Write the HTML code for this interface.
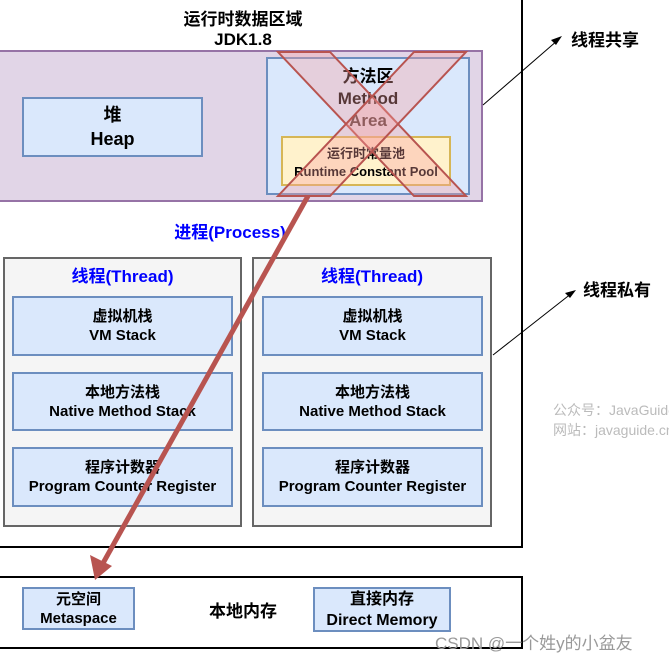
<!DOCTYPE html>
<html><head><meta charset="utf-8"><style>
body{margin:0;width:669px;height:660px;background:#fff;position:relative;overflow:hidden;font-family:"Liberation Sans","Noto Sans CJK SC",sans-serif;font-weight:bold}
.a{position:absolute;box-sizing:border-box}
.t{position:absolute;text-align:center;white-space:nowrap}
.bl{background:#dae8fc;border:2px solid #6c8ebf;display:flex;flex-direction:column;align-items:center;justify-content:center;font-size:15px;line-height:19px;color:#000}
</style></head><body>
<div class="a" style="left:-3px;top:-3px;width:526px;height:551px;border:2px solid #000"></div>
<div class="t" style="left:143px;top:5px;width:200px;font-size:17px">运行时数据区域</div>
<div class="t" style="left:143px;top:30px;width:200px;font-size:17px">JDK1.8</div>
<div class="a" style="left:-2px;top:50px;width:485px;height:152px;background:#e1d5e7;border:2px solid #9673a6"></div>
<div class="a bl" style="left:22px;top:97px;width:181px;height:60px;font-size:18px;line-height:24px"><div>堆</div><div>Heap</div></div>
<div class="a" style="left:266px;top:57px;width:204px;height:138px;background:#dae8fc;border:2px solid #6c8ebf"></div>
<div class="t" style="left:266px;top:66px;width:204px;font-size:17px;line-height:22px">方法区<br>Method<br>Area</div>
<div class="a" style="left:281px;top:136px;width:170px;height:50px;background:#fff2cc;border:2px solid #d6b656"></div>
<div class="t" style="left:281px;top:145px;width:170px;font-size:13px;line-height:18px">运行时常量池<br>Runtime Constant Pool</div>
<div class="t" style="left:130px;top:218px;width:200px;font-size:17px;color:#0000ff">进程(Process)</div>
<div class="a" style="left:3px;top:257px;width:239px;height:270px;background:#f5f5f5;border:2px solid #666"></div>
<div class="a" style="left:252px;top:257px;width:240px;height:270px;background:#f5f5f5;border:2px solid #666"></div>
<div class="t" style="left:3px;top:262px;width:239px;font-size:17px;color:#0000ff">线程(Thread)</div>
<div class="t" style="left:252px;top:262px;width:240px;font-size:17px;color:#0000ff">线程(Thread)</div>
<div class="a bl" style="left:12px;top:296px;width:221px;height:60px"><div>虚拟机栈</div><div>VM Stack</div></div>
<div class="a bl" style="left:12px;top:372px;width:221px;height:59px"><div>本地方法栈</div><div>Native Method Stack</div></div>
<div class="a bl" style="left:12px;top:447px;width:221px;height:60px"><div>程序计数器</div><div>Program Counter Register</div></div>
<div class="a bl" style="left:262px;top:296px;width:221px;height:60px"><div>虚拟机栈</div><div>VM Stack</div></div>
<div class="a bl" style="left:262px;top:372px;width:221px;height:59px"><div>本地方法栈</div><div>Native Method Stack</div></div>
<div class="a bl" style="left:262px;top:447px;width:221px;height:60px"><div>程序计数器</div><div>Program Counter Register</div></div>
<div class="a" style="left:-3px;top:576px;width:526px;height:73px;border:2px solid #000"></div>
<div class="a bl" style="left:22px;top:587px;width:113px;height:43px;font-size:15px;line-height:19px"><div>元空间</div><div>Metaspace</div></div>
<div class="t" style="left:193px;top:597px;width:100px;font-size:17px">本地内存</div>
<div class="a bl" style="left:313px;top:587px;width:138px;height:45px;font-size:16px;line-height:21px"><div>直接内存</div><div>Direct Memory</div></div>
<div class="t" style="left:571px;top:26px;font-size:17px">线程共享</div>
<div class="t" style="left:583px;top:276px;font-size:17px">线程私有</div>
<div class="t" style="left:553px;top:400px;font-size:14px;color:#bbb;font-weight:normal;text-align:left;line-height:20px">公众号：JavaGuide<br>网站：javaguide.cn</div>
<div class="t" style="left:435px;top:629px;font-size:17px;color:#999;font-weight:normal">CSDN @一个姓y的小盆友</div>
<svg class="a" style="left:0;top:0" width="669" height="660">
<line x1="483" y1="105" x2="558" y2="40" stroke="#000" stroke-width="1"/>
<polygon points="562,36 551,40 556,45" fill="#000"/>
<line x1="493" y1="355" x2="572" y2="293" stroke="#000" stroke-width="1"/>
<polygon points="576,290 565,293 570,298" fill="#000"/>
<polygon points="278,52 330,52 466,196 414,196" fill="rgba(248,160,160,0.35)" stroke="#b85450" stroke-width="2"/>
<polygon points="414,52 466,52 330,196 278,196" fill="rgba(248,160,160,0.35)" stroke="#b85450" stroke-width="2"/>
<line x1="308" y1="196" x2="102" y2="565" stroke="#b85450" stroke-width="5"/>
<polygon points="95,580 90,555 112,566" fill="#b85450"/>
</svg>
</body></html>
